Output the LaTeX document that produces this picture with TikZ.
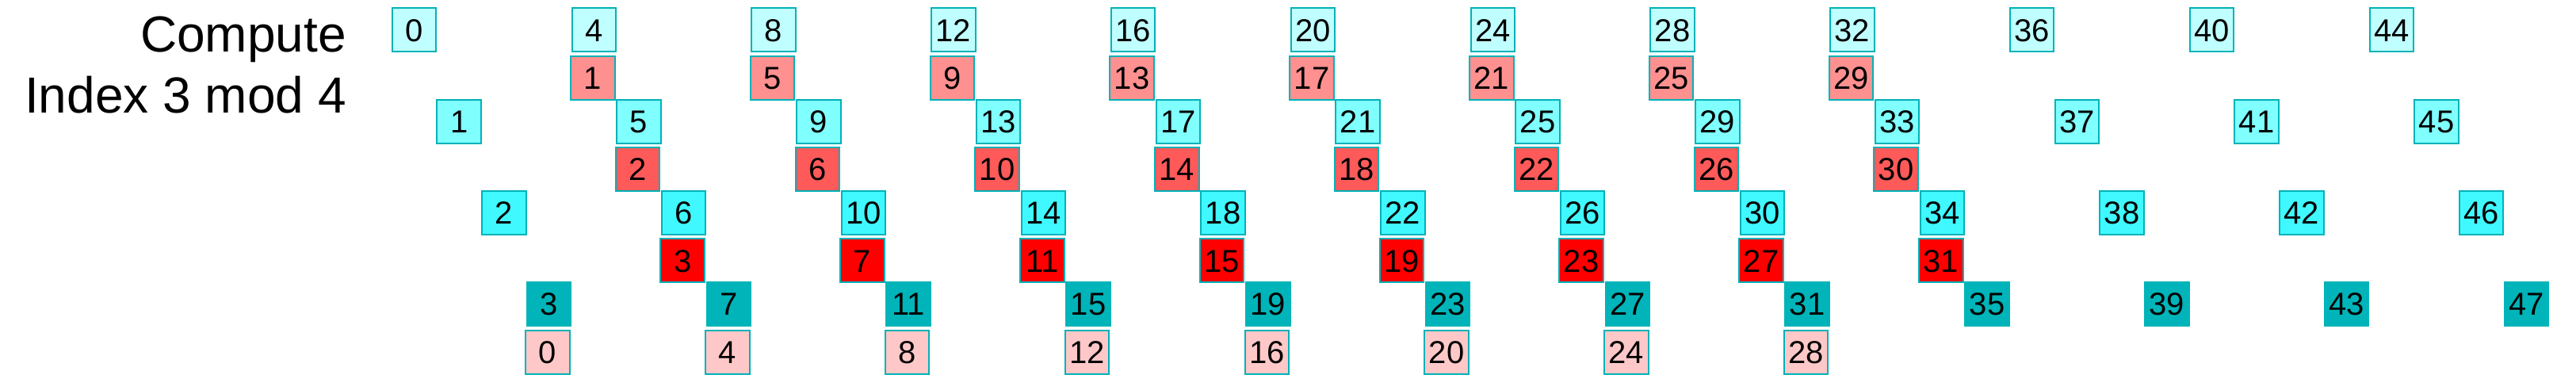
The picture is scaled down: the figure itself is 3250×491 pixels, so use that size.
\documentclass[tikz,border=0pt]{standalone}
\usepackage{fontspec}
\setmainfont{Liberation Sans}
\definecolor{cyA}{HTML}{C0FFFF}
\definecolor{cyB}{HTML}{80FFFF}
\definecolor{cyC}{HTML}{40F8FF}
\definecolor{cyD}{HTML}{00B4B9}
\definecolor{edgecol}{HTML}{00B2B8}
\definecolor{rdA}{HTML}{FF9090}
\definecolor{rdB}{HTML}{FF5A5A}
\definecolor{rdC}{HTML}{FF0000}
\definecolor{rdD}{HTML}{FFC8C8}
\tikzset{
  cell/.style={draw=edgecol, line width=2pt, minimum width=55.5pt, minimum height=55pt,
    inner sep=0pt, text height=28.6pt, text depth=0pt, font=\fontsize{40}{40}\selectfont},
  title/.style={anchor=base east, inner sep=0pt, font=\fontsize{64}{64}\selectfont}
}
\begin{document}
\begin{tikzpicture}[x=1pt,y=-1pt]
\useasboundingbox (0,0) rectangle (3250,491);
\node[title] (t1) at (437,65) {Compute};
\node[title] (t2) at (437,142) {Index 3 mod 4};
\foreach \i in {0,4,...,44} \node[cell,fill=cyA] (c\i) at ({522.5+56.7*\i},37.9) {\i};
\foreach \i in {1,5,...,45} \node[cell,fill=cyB] (c\i) at ({522.5+56.7*\i},153.2) {\i};
\foreach \i in {2,6,...,46} \node[cell,fill=cyC] (c\i) at ({522.5+56.7*\i},268.2) {\i};
\foreach \i in {3,7,...,47} \node[cell,fill=cyD,draw=cyD] (c\i) at ({522.5+56.7*\i},383.3) {\i};
\foreach \k in {1,5,...,29} \node[cell,fill=rdA] (r\k) at ({521+56.7*(\k+3)},98.3) {\k};
\foreach \k in {2,6,...,30} \node[cell,fill=rdB] (r\k) at ({521+56.7*(\k+3)},213.3) {\k};
\foreach \k in {3,7,...,31} \node[cell,fill=rdC] (r\k) at ({521+56.7*(\k+3)},328.8) {\k};
\foreach \k in {0,4,...,28} \node[cell,fill=rdD] (r\k) at ({521+56.7*(\k+3)},444.2) {\k};
\end{tikzpicture}
\end{document}
